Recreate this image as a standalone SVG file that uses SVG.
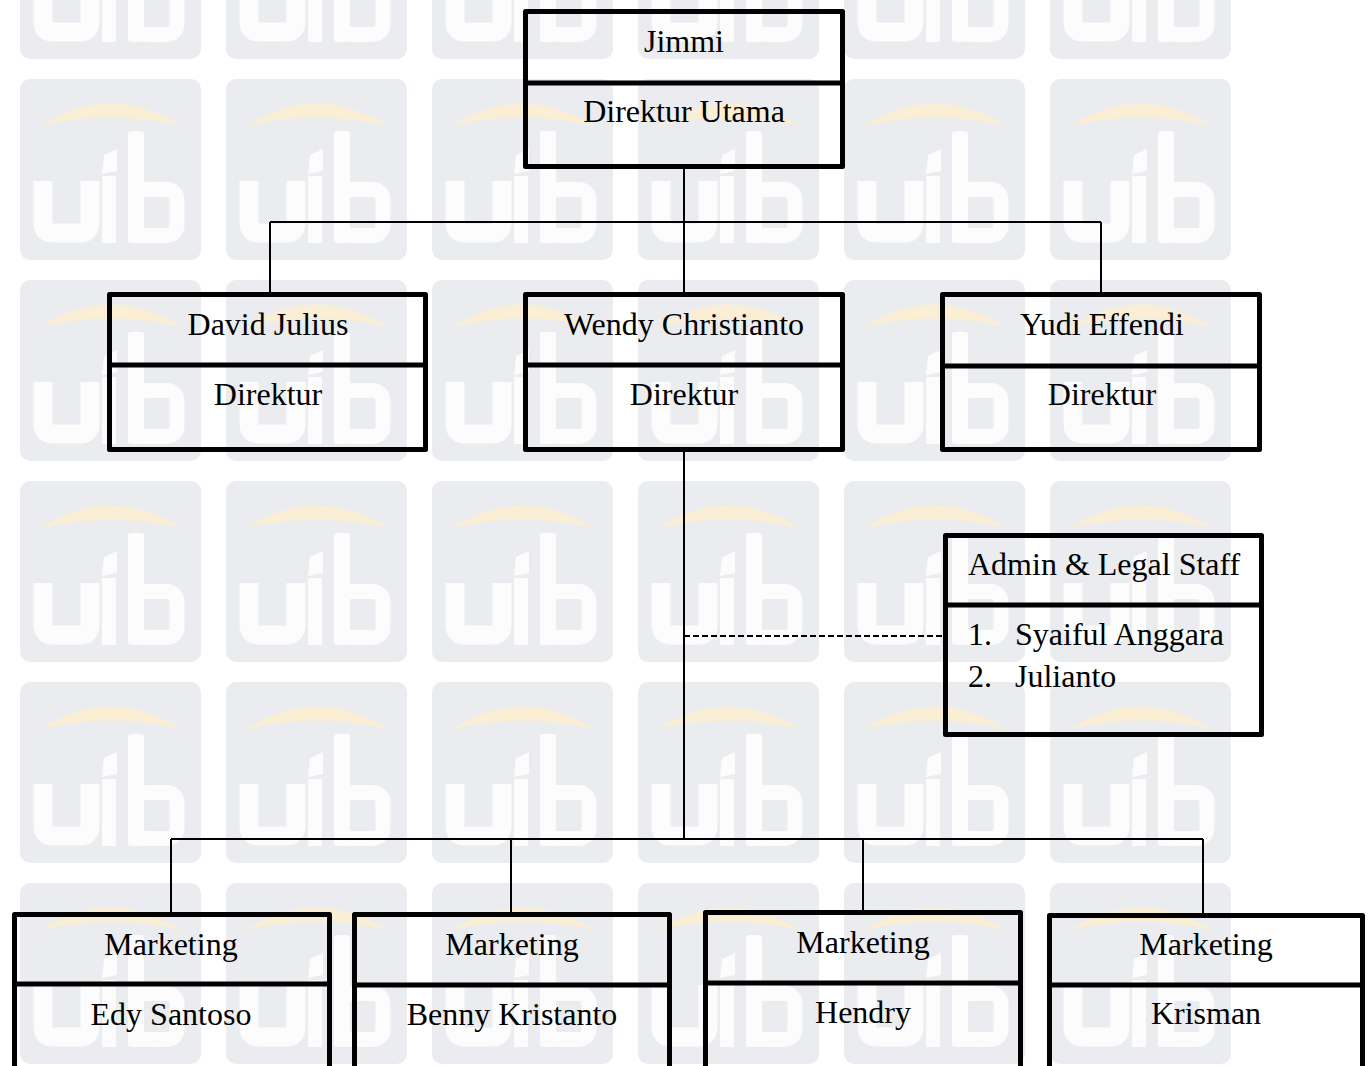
<svg xmlns="http://www.w3.org/2000/svg" width="1371" height="1066" viewBox="0 0 1371 1066">
<style>
.box{fill:none;stroke:#000;stroke-width:5;stroke-linejoin:round}
.div{stroke:#000;stroke-width:5}
.t{font-family:"Liberation Serif","Times New Roman",serif;font-size:32px;fill:#000}
.c{text-anchor:middle}
.conn{fill:none;stroke:#000;stroke-width:2}
.dash{fill:none;stroke:#000;stroke-width:2;stroke-dasharray:6 3}
.wl{fill:none;stroke:#fcfcfd}
</style>
<defs>
<pattern id="wm" x="20" y="-122" width="206" height="201" patternUnits="userSpaceOnUse">
<rect x="0" y="0" width="181" height="181" rx="10" fill="#eaecef"/>
<path d="M20,47 Q90,2 162,47 Q90,30 20,47 Z" fill="#faeed5"/>
<path class="wl" stroke-width="19" d="M23,102 V144 Q23,154 33,154 H60 Q70,154 70,144 V102"/>
<rect x="82" y="97" width="14" height="67" fill="#fcfcfd"/>
<polygon points="82,95 97,92 97,70 84,76" fill="#fcfcfd"/>
<rect x="108" y="52" width="16" height="112" rx="3" fill="#fcfcfd"/>
<rect class="wl" stroke-width="15" x="116" y="110.5" width="41" height="46" rx="10"/>
</pattern>
</defs>
<rect x="0" y="0" width="1371" height="1066" fill="#ffffff"/>
<rect x="20" y="0" width="1212" height="1066" fill="url(#wm)"/>

<g id="connectors">
<path class="conn" d="M684,169 V222 M270,222 H1101 M270,222 V292 M684,222 V292 M1101,222 V292"/>
<path class="conn" d="M684,452 V839 M171,839 H1203 M171,839 V912 M511,839 V912 M863,839 V910 M1203,839 V913"/>
<path class="dash" d="M684,636 H943"/>
</g>

<g id="jimmi">
<rect class="box" x="525.5" y="11.5" width="317" height="155"/>
<line class="div" x1="523" y1="83" x2="845" y2="83"/>
<text class="t c" x="684" y="52">Jimmi</text>
<text class="t c" x="684" y="122">Direktur Utama</text>
</g>

<g id="david">
<rect class="box" x="109.5" y="294.5" width="316" height="155"/>
<line class="div" x1="107" y1="365" x2="428" y2="365"/>
<text class="t c" x="268" y="335">David Julius</text>
<text class="t c" x="268" y="405">Direktur</text>
</g>

<g id="wendy">
<rect class="box" x="525.5" y="294.5" width="317" height="155"/>
<line class="div" x1="523" y1="365" x2="845" y2="365"/>
<text class="t c" x="684" y="335">Wendy Christianto</text>
<text class="t c" x="684" y="405">Direktur</text>
</g>

<g id="yudi">
<rect class="box" x="942.5" y="294.5" width="317" height="155"/>
<line class="div" x1="940" y1="366" x2="1262" y2="366"/>
<text class="t c" x="1102" y="335">Yudi Effendi</text>
<text class="t c" x="1102" y="405">Direktur</text>
</g>

<g id="admin">
<rect class="box" x="945.5" y="535.5" width="316" height="199"/>
<line class="div" x1="943" y1="605" x2="1264" y2="605"/>
<text class="t" x="968" y="575">Admin &amp; Legal Staff</text>
<text class="t" x="968" y="645">1.</text>
<text class="t" x="1015" y="645">Syaiful Anggara</text>
<text class="t" x="968" y="687">2.</text>
<text class="t" x="1015" y="687">Julianto</text>
</g>

<g id="edy">
<rect class="box" x="14.5" y="914.5" width="315" height="200"/>
<line class="div" x1="12" y1="984" x2="332" y2="984"/>
<text class="t c" x="171" y="955">Marketing</text>
<text class="t c" x="171" y="1025">Edy Santoso</text>
</g>

<g id="benny">
<rect class="box" x="354.5" y="914.5" width="315" height="200"/>
<line class="div" x1="352" y1="985" x2="672" y2="985"/>
<text class="t c" x="512" y="955">Marketing</text>
<text class="t c" x="512" y="1025">Benny Kristanto</text>
</g>

<g id="hendry">
<rect class="box" x="705.5" y="912.5" width="315" height="200"/>
<line class="div" x1="703" y1="983" x2="1023" y2="983"/>
<text class="t c" x="863" y="953">Marketing</text>
<text class="t c" x="863" y="1023">Hendry</text>
</g>

<g id="krisman">
<rect class="box" x="1049.5" y="915.5" width="313" height="200"/>
<line class="div" x1="1047" y1="985" x2="1365" y2="985"/>
<text class="t c" x="1206" y="955">Marketing</text>
<text class="t c" x="1206" y="1024">Krisman</text>
</g>
</svg>
